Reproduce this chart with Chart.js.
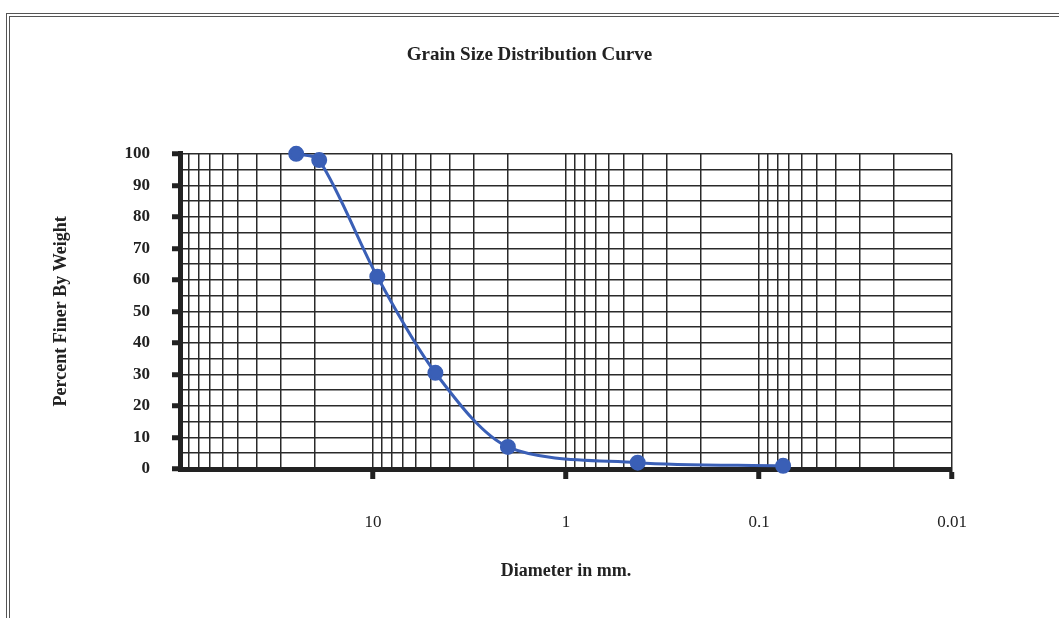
<!DOCTYPE html>
<html>
<head>
<meta charset="utf-8">
<title>Grain Size Distribution Curve</title>
<script src="https://cdn.jsdelivr.net/npm/chart.js@4.4.1/dist/chart.umd.min.js"></script>
<style>
  html, body { margin: 0; padding: 0; background: #fff; overflow: hidden; }
  #wrap { position: relative; width: 1059px; height: 618px; }
  #frame {
    position: absolute; left: 6px; top: 13px; width: 1100px; height: 700px;
    border-left: 4px double #555; border-top: 4px double #555;
  }
  canvas { position: absolute; left: 0; top: 0; }
</style>
</head>
<body>
<div id="wrap">
  <div id="frame"></div>
  <canvas id="chart" width="1059" height="618"></canvas>
</div>
<script>
// sieve results
const diameters = [25, 19, 9.5, 4.75, 2, 0.425, 0.075];
const percentFiner = [100, 98, 61, 30.5, 7, 2, 1];

// log grid: 1..9 inside each decade
const decades = [0.01, 0.1, 1, 10];
const xGridValues = [];
decades.forEach((d) => {
  for (let k = 1; k <= 9; k++) xGridValues.push(+(d * k).toPrecision(3));
});
xGridValues.push(100);

const xTickValues = [10, 1, 0.1, 0.01];
const xTickLabels = ["10", "1", "0.1", "0.01"];

const serif = "'Liberation Serif', 'DejaVu Serif', serif";
const blue = "#3A5FB6";
const ink = "#222";

function decadeIndex(v) {
  return xTickValues.findIndex((t) => Math.abs(t - v) / t < 1e-6);
}

const ctx = document.getElementById("chart").getContext("2d");

new Chart(ctx, {
  type: "line",
  data: {
    datasets: [
      {
        label: "Percent Finer",
        data: diameters.map((d, i) => ({ x: d, y: percentFiner[i] })),
        borderColor: blue,
        backgroundColor: blue,
        borderWidth: 3,
        pointRadius: 6.5,
        pointHoverRadius: 6.5,
        tension: 0.3,
        fill: false,
        clip: 10,
      },
    ],
  },
  options: {
    responsive: false,
    animation: false,
    layout: { padding: 0 },
    plugins: {
      legend: { display: false },
      tooltip: { enabled: false },
      title: {
        display: true,
        text: "Grain Size Distribution Curve",
        color: ink,
        font: { family: serif, size: 19, weight: "bold" },
        padding: { top: 44, bottom: 87 },
      },
    },
    scales: {
      x: {
        type: "logarithmic",
        reverse: true,
        min: 0.01,
        max: 100,
        afterFit: (scale) => { scale.height = 149; },
        afterBuildTicks: (scale) => {
          scale.ticks = xGridValues.map((v) => ({ value: v }));
        },
        border: { display: true, color: ink, width: 5 },
        grid: {
          color: "#2a2a2a",
          lineWidth: 1.5,
          drawTicks: true,
          tickLength: 10,
          tickWidth: 5,
          tickColor: (c) => (c.tick && decadeIndex(c.tick.value) >= 0 ? ink : "rgba(0,0,0,0)"),
        },
        ticks: {
          autoSkip: false,
          maxRotation: 0,
          padding: 33,
          color: ink,
          font: { family: serif, size: 17 },
          callback: (value) => {
            const i = decadeIndex(value);
            return i >= 0 ? xTickLabels[i] : "";
          },
        },
        title: {
          display: true,
          text: "Diameter in mm.",
          color: ink,
          font: { family: serif, size: 18, weight: "bold" },
          padding: { top: 0, bottom: 36 },
        },
      },
      y: {
        min: 0,
        max: 100,
        afterFit: (scale) => { scale.width = 180; },
        border: { display: true, color: ink, width: 5 },
        grid: {
          color: "#2a2a2a",
          lineWidth: 1.5,
          drawTicks: true,
          tickLength: 8,
          tickWidth: 5,
          tickColor: (c) => (c.tick && c.tick.value % 10 === 0 ? ink : "rgba(0,0,0,0)"),
        },
        ticks: {
          stepSize: 5,
          autoSkip: false,
          padding: 22,
          color: ink,
          font: { family: serif, size: 17, weight: "bold" },
          callback: (value) => (value % 10 === 0 ? String(value) : ""),
        },
        title: {
          display: true,
          text: "Percent Finer By Weight",
          color: ink,
          font: { family: serif, size: 18, weight: "bold" },
          padding: { top: 51, bottom: 0 },
        },
      },
      // empty right-hand axis: only reserves the margin so the title stays centred on the page
      yRight: {
        position: "right",
        min: 0,
        max: 100,
        afterFit: (scale) => { scale.width = 107; },
        border: { display: false },
        grid: { display: false, drawOnChartArea: false },
        ticks: { display: false },
      },
    },
  },
});
</script>
</body>
</html>
